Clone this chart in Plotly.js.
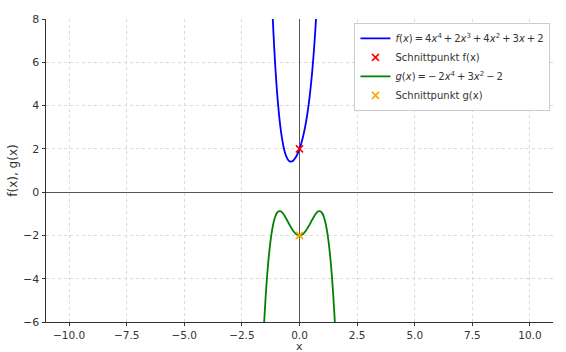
<!DOCTYPE html>
<html><head><meta charset="utf-8">
<script src="https://cdn.plot.ly/plotly-3.0.1.min.js"></script>
<style>html,body{margin:0;padding:0;background:#fff}#c{width:566px;height:352px}</style>
</head><body><div id="c"></div>
<script>
// f(x) samples
const fX = [-1.2,-1.15,-1.1,-1.05,-1.0,-0.95,-0.9,-0.85,-0.8,-0.75,-0.7,-0.65,-0.6,-0.55,-0.5,-0.45,-0.4,-0.35,-0.3,-0.25,-0.2,-0.15,-0.1,-0.05,0,0.05,0.1,0.15,0.2,0.25,0.3,0.35,0.4,0.45,0.5,0.55,0.6,0.65,0.7,0.75,0.8];
const fY = [8.998,7.794,6.734,5.807,5.0,4.303,3.706,3.200,2.774,2.422,2.134,1.905,1.726,1.593,1.5,1.442,1.414,1.414,1.438,1.484,1.550,1.635,1.738,1.860,2.0,2.160,2.342,2.549,2.782,3.047,3.346,3.686,4.070,4.506,5.0,5.559,6.190,6.903,7.706,8.609,9.622];
// g(x) samples
const gX = [-1.6,-1.55,-1.5,-1.45,-1.4,-1.35,-1.3,-1.25,-1.2,-1.15,-1.1,-1.05,-1.0,-0.95,-0.9,-0.85,-0.8,-0.75,-0.7,-0.65,-0.6,-0.55,-0.5,-0.45,-0.4,-0.35,-0.3,-0.25,-0.2,-0.15,-0.1,-0.05,0,0.05,0.1,0.15,0.2,0.25,0.3,0.35,0.4,0.45,0.5,0.55,0.6,0.65,0.7,0.75,0.8,0.85,0.9,0.95,1.0,1.05,1.1,1.15,1.2,1.25,1.3,1.35,1.4,1.45,1.5,1.55,1.6];
const gY = [-7.427,-6.337,-5.375,-4.534,-3.803,-3.176,-2.642,-2.195,-1.827,-1.531,-1.298,-1.124,-1.0,-0.922,-0.882,-0.877,-0.899,-0.945,-1.010,-1.090,-1.179,-1.276,-1.375,-1.475,-1.571,-1.663,-1.746,-1.820,-1.883,-1.934,-1.970,-1.993,-2.0,-1.993,-1.970,-1.934,-1.883,-1.820,-1.746,-1.663,-1.571,-1.475,-1.375,-1.276,-1.179,-1.090,-1.010,-0.945,-0.899,-0.877,-0.882,-0.922,-1.0,-1.124,-1.298,-1.531,-1.827,-2.195,-2.642,-3.176,-3.803,-4.534,-5.375,-6.337,-7.427];
// intersection points with y-axis
const sfX = [0], sfY = [2];
const sgX = [0], sgY = [-2];
const T = "\u2009";
const names = [
  "<i>f</i>(<i>x</i>)"+T+"="+T+"4<i>x</i><sup>4</sup>"+T+"+"+T+"2<i>x</i><sup>3</sup>"+T+"+"+T+"4<i>x</i><sup>2</sup>"+T+"+"+T+"3<i>x</i>"+T+"+"+T+"2",
  "Schnittpunkt f(x)",
  "<i>g</i>(<i>x</i>)"+T+"="+T+"\u2212"+T+"2<i>x</i><sup>4</sup>"+T+"+"+T+"3<i>x</i><sup>2</sup>"+T+"\u2212"+T+"2",
  "Schnittpunkt g(x)"
];
const xTitle = "x";
const yTitle = "f(x), g(x)";
const xTicks = [-10,-7.5,-5,-2.5,0,2.5,5,7.5,10];
const xTickText = ["\u221210.0","\u22127.5","\u22125.0","\u22122.5","0.0","2.5","5.0","7.5","10.0"];
const yTicks = [-6,-4,-2,0,2,4,6,8];
const yTickText = ["\u22126","\u22124","\u22122","0","2","4","6","8"];

const traces = [
  {x: fX, y: fY, mode: 'lines', name: names[0], line: {color: '#0000ff', width: 1.8, shape: 'spline', smoothing: 0.6}},
  {x: sfX, y: sfY, mode: 'markers', name: names[1], marker: {symbol: 'x-thin-open', size: 7, color: '#ff0000', line: {color: '#ff0000', width: 1.6}}},
  {x: gX, y: gY, mode: 'lines', name: names[2], line: {color: '#008000', width: 1.8, shape: 'spline', smoothing: 0.6}},
  {x: sgX, y: sgY, mode: 'markers', name: names[3], marker: {symbol: 'x-thin-open', size: 7, color: '#ffa500', line: {color: '#ffa500', width: 1.6}}}
];
const axisCommon = {
  showgrid: true, gridcolor: '#dadada', griddash: 'dot', gridwidth: 1,
  zeroline: true, zerolinecolor: '#555', zerolinewidth: 1,
  showline: true, linecolor: '#333', linewidth: 1,
  ticks: 'outside', ticklen: 3.5, tickcolor: '#333',
  tickfont: {family: 'DejaVu Sans', size: 11, color: '#333'}
};
const layout = {
  width: 566, height: 352,
  margin: {l: 46, r: 13, t: 19, b: 30},
  paper_bgcolor: '#fff', plot_bgcolor: '#fff',
  font: {family: 'DejaVu Sans', color: '#333'},
  showlegend: true,
  xaxis: Object.assign({}, axisCommon, {
    range: [-11, 11], tickvals: xTicks, ticktext: xTickText, ticklen: 3,
    tickfont: {family: 'DejaVu Sans', size: 10.5, color: '#333'}
  }),
  yaxis: Object.assign({}, axisCommon, {
    range: [-6, 8], tickvals: yTicks, ticktext: yTickText,
    title: {text: yTitle, font: {size: 12, color: '#333'}, standoff: 2}
  }),
  annotations: [{
    text: xTitle, xref: 'paper', yref: 'paper', x: 0.5, y: 0,
    xanchor: 'center', yanchor: 'middle', yshift: -24, showarrow: false,
    font: {family: 'DejaVu Sans', size: 11, color: '#333'}
  }],
  legend: {
    x: 0.995, y: 0.987, xanchor: 'right', yanchor: 'top',
    bgcolor: 'rgba(255,255,255,0.9)', bordercolor: '#ccc', borderwidth: 1,
    font: {family: 'DejaVu Sans', size: 10, color: '#333'},
    tracegroupgap: 0, itemwidth: 30
  }
};
Plotly.newPlot('c', traces, layout, {displayModeBar: false, staticPlot: true});
</script>
</body></html>
